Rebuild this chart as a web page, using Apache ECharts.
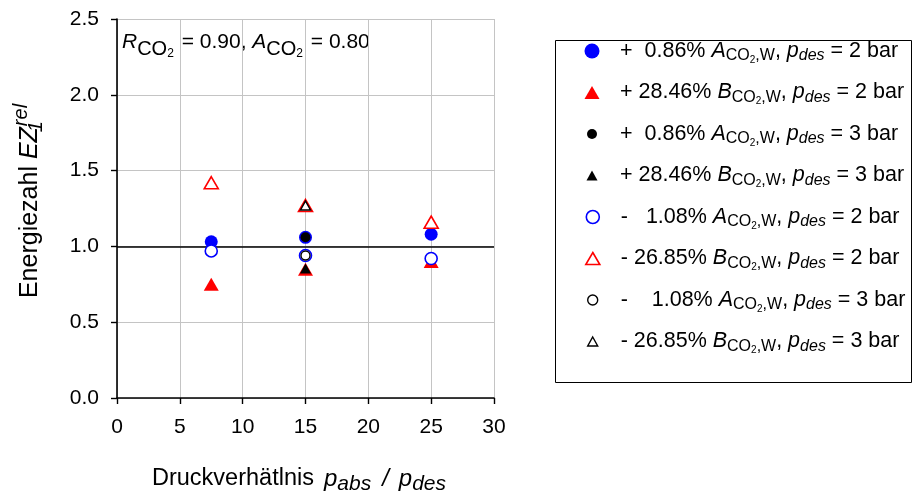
<!DOCTYPE html>
<html>
<head>
<meta charset="utf-8">
<script src="https://cdn.jsdelivr.net/npm/echarts@6/dist/echarts.min.js"></script>
<style>
  html, body { margin: 0; padding: 0; background: #fff; }
  #chart { width: 914px; height: 500px; }
</style>
</head>
<body>
<div id="chart"></div>
<script>
// Energiezahl EZ1rel versus pressure ratio, parameter variation of A_CO2,W and B_CO2,W
const xRange = [0, 30];
const xStep = 5;
const yRange = [0, 2.5];
const yStep = 0.5;
const referenceLevel = 1.0;

// [pressure ratio, EZ1rel]
const aPlus2bar  = [[7.5, 1.03], [15, 1.06], [25, 1.08]];
const bPlus2bar  = [[7.5, 0.75], [15, 0.85], [25, 0.90]];
const aPlus3bar  = [[15, 1.06]];
const bPlus3bar  = [[15, 0.855]];
const aMinus2bar = [[7.5, 0.97], [15, 0.94], [25, 0.92]];
const bMinus2bar = [[7.5, 1.42], [15, 1.27], [25, 1.16]];
const aMinus3bar = [[15, 0.94]];
const bMinus3bar = [[15, 1.27]];

const seriesNames = ['A+ 2 bar', 'B+ 2 bar', 'A+ 3 bar', 'B+ 3 bar', 'A- 2 bar', 'B- 2 bar', 'A- 3 bar', 'B- 3 bar'];
const seriesData = [aPlus2bar, bPlus2bar, aPlus3bar, bPlus3bar, aMinus2bar, bMinus2bar, aMinus3bar, bMinus3bar];

const legendPrefix = ['+  0.86% ', '+ 28.46% ', '+  0.86% ', '+ 28.46% ', '-   1.08% ', '- 26.85% ', '-    1.08% ', '- 26.85% '];
const legendCoef = ['A', 'B', 'A', 'B', 'A', 'B', 'A', 'B'];
const legendPressure = ['2', '2', '3', '3', '2', '2', '3', '3'];

const FONT = '"Liberation Sans", Arial, sans-serif';

// marker appearance per series
const markerStyle = [
  { symbol: 'circle',   size: 13,       legendSize: [15, 15], fill: '#0000ff', stroke: '#0000ff', bw: 0 },
  { symbol: 'triangle', size: [15, 13], legendSize: [15, 13], fill: '#ff0000', stroke: '#ff0000', bw: 0 },
  { symbol: 'circle',   size: 10,       legendSize: [10, 10], fill: '#000000', stroke: '#000000', bw: 0 },
  { symbol: 'triangle', size: [11, 10], legendSize: [11, 10], fill: '#000000', stroke: '#000000', bw: 0 },
  { symbol: 'circle',   size: 12,       legendSize: [13, 13], fill: '#ffffff', stroke: '#0000ff', bw: 1.6 },
  { symbol: 'triangle', size: [14, 12], legendSize: [14, 12], fill: '#ffffff', stroke: '#ff0000', bw: 1.6 },
  { symbol: 'circle',   size: 9,        legendSize: [10, 10], fill: '#ffffff', stroke: '#000000', bw: 1.4 },
  { symbol: 'triangle', size: [10, 9],  legendSize: [10, 9],  fill: '#ffffff', stroke: '#000000', bw: 1.4 }
];

const LH = 38;
const tok = (size, extra) => Object.assign({ fontFamily: FONT, fontSize: size, color: '#000', lineHeight: LH }, extra || {});

// rich text styles: main, italic, subscript, sub-subscript, stacked sub/superscript
function richSet(base, subSize, subDrop, ssSize, ssDrop, lead) {
  return {
    lead: tok(base, { padding: [0, 0, 0, lead || 0] }),
    m:  tok(base),
    i:  tok(base, { fontStyle: 'italic' }),
    s:  tok(subSize, { padding: [subDrop * 2, 0, 0, 0] }),
    si: tok(subSize, { fontStyle: 'italic', padding: [subDrop * 2, 0, 0, 0] }),
    ss: tok(ssSize, { padding: [ssDrop * 2, 0, 0, 0] }),
    ssg: tok(ssSize, { padding: [ssDrop * 2, 2, 0, 0] }),
    sub1: tok(subSize, { fontStyle: 'italic', padding: [subDrop * 2, 0, 0, 0], width: 1 }),
    sup: tok(subSize, { fontStyle: 'italic', padding: [0, 0, 18, 0] })
  };
}

function legendText(i) {
  const pre = legendPrefix[i];
  return '{lead|' + pre.charAt(0) + '}{m|' + pre.slice(1) + '}{i|' + legendCoef[i] + '}{s|CO}{ss|2}{s|,W}{m|, }{i|p}{si|des}{m| = ' + legendPressure[i] + ' bar}';
}

const legendX = 592;      // symbol centre
const legendTextX = 620;  // text start
const legendRow0 = 56;
const legendRowStep = 41.5;

const legends = seriesNames.map((name, i) => {
  const w = markerStyle[i].legendSize[0];
  const h = markerStyle[i].legendSize[1];
  const lead = legendTextX - (legendX + w / 2 + 5);
  return {
    data: [name],
    left: legendX - w / 2,
    top: legendRow0 + legendRowStep * i - LH / 2,
    padding: 0,
    itemWidth: w,
    itemHeight: h,
    selectedMode: false,
    itemStyle: { borderWidth: markerStyle[i].bw },
    formatter: () => legendText(i),
    textStyle: { fontFamily: FONT, fontSize: 21.5, color: '#000', rich: richSet(21.5, 16, 5, 10, 9, lead) }
  };
});

const series = seriesNames.map((name, i) => {
  const st = markerStyle[i];
  const s = {
    name: name,
    type: 'scatter',
    data: seriesData[i],
    symbol: st.symbol,
    symbolSize: st.size,
    itemStyle: { color: st.fill, borderColor: st.stroke, borderWidth: st.bw, opacity: 1 },
    emphasis: { disabled: true },
    z: 3 + i
  };
  if (i === 0) {
    s.markLine = {
      silent: true,
      symbol: 'none',
      label: { show: false },
      lineStyle: { color: '#000', width: 1.6, type: 'solid' },
      data: [{ yAxis: referenceLevel }],
      z: 2
    };
  }
  return s;
});

const axisCommon = {
  type: 'value',
  axisLine: { show: true, lineStyle: { color: '#000', width: 1.6 } },
  axisTick: { show: true, inside: false, length: 6, lineStyle: { color: '#000', width: 1.4 } },
  splitLine: { show: true, lineStyle: { color: '#c4c4c4', width: 1 } },
  axisLabel: { fontFamily: FONT, fontSize: 21, color: '#000' }
};

const chart = echarts.init(document.getElementById('chart'), null, { renderer: 'canvas' });
chart.setOption({
  animation: false,
  backgroundColor: '#fff',
  grid: { left: 117, right: 420, top: 19, bottom: 102, containLabel: false },
  xAxis: Object.assign({}, axisCommon, {
    min: xRange[0], max: xRange[1], interval: xStep,
    axisLabel: Object.assign({}, axisCommon.axisLabel, { margin: 19 })
  }),
  yAxis: Object.assign({}, axisCommon, {
    min: yRange[0], max: yRange[1], interval: yStep,
    axisLabel: Object.assign({}, axisCommon.axisLabel, { margin: 18, formatter: v => v.toFixed(1) })
  }),
  legend: legends,
  series: series,
  graphic: [
    {
      type: 'rect',
      shape: { x: 555.5, y: 40.5, width: 356, height: 342 },
      style: { fill: 'none', stroke: '#000', lineWidth: 1 },
      silent: true
    },
    {
      type: 'text',
      x: 122, y: 42,
      silent: true,
      style: {
        text: '{i|R}{s|CO}{ssg|2}{m| = 0.90, }{i|A}{s|CO}{ssg|2}{m| = 0.80}',
        align: 'left', verticalAlign: 'middle',
        rich: richSet(21, 20, 7, 12, 12, 0)
      }
    },
    {
      type: 'text',
      x: 152, y: 479,
      silent: true,
      style: {
        text: '{m|Druckverhätlnis}{pa|p}{si|abs}{sl|/}{pb|p}{si|des}',
        align: 'left', verticalAlign: 'middle',
        rich: Object.assign(richSet(23.5, 21, 5, 12, 9, 0), {
          pa: tok(24, { fontStyle: 'italic', padding: [0, 0, 0, 10] }),
          sl: tok(24, { fontStyle: 'italic', padding: [0, 0, 0, 11] }),
          pb: tok(24, { fontStyle: 'italic', padding: [0, 0, 0, 10] })
        })
      }
    },
    {
      type: 'text',
      x: 30, y: 201,
      rotation: Math.PI / 2,
      silent: true,
      style: {
        text: '{m|Energiezahl }{i|EZ}{sub1|1}{sup|rel}',
        align: 'center', verticalAlign: 'middle',
        rich: richSet(25, 20, 6, 10, 10, 0)
      }
    }
  ]
});
</script>
</body>
</html>
